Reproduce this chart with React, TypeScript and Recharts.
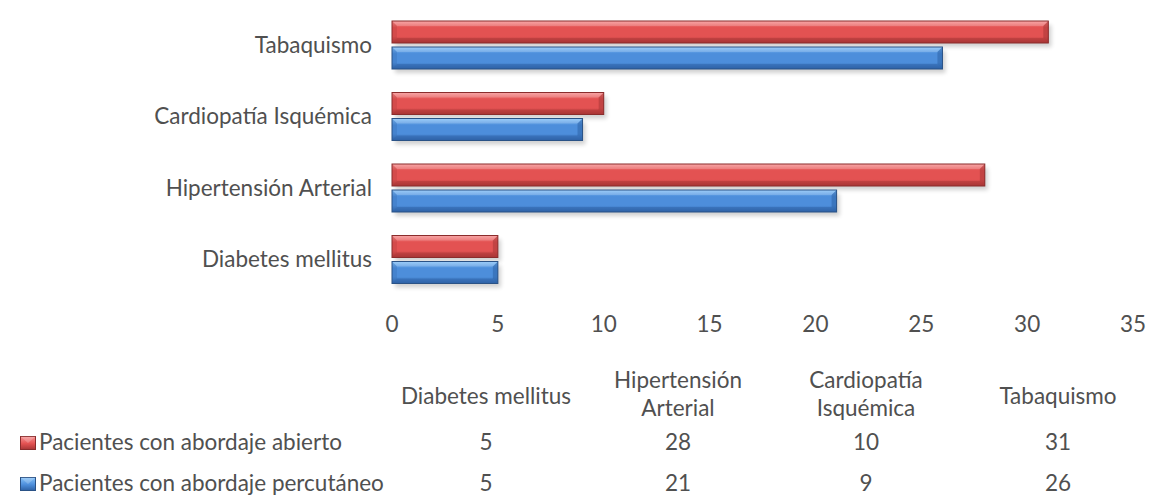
import React from 'react'
import { BarChart, Bar, XAxis, YAxis } from 'recharts'

const categories = ['Diabetes mellitus', 'Hipertensión Arterial', 'Cardiopatía Isquémica', 'Tabaquismo']
const abierto = [5, 28, 10, 31]
const percutaneo = [5, 21, 9, 26]
const xTicks = [0, 5, 10, 15, 20, 25, 30, 35]
const tableHeaders = [['Diabetes mellitus'], ['Hipertensión', 'Arterial'], ['Cardiopatía', 'Isquémica'], ['Tabaquismo']]
const seriesNames = ['Pacientes con abordaje abierto', 'Pacientes con abordaje percutáneo']

const data = categories.map((name, i) => ({ name, abierto: abierto[i], percutaneo: percutaneo[i] }))

const FONT = 'Lato, "Noto Sans", sans-serif'
const FS = 22.5
const TEXT = '#505050'
const colCenters = [486, 678, 866, 1058]
const rowCenters = [443, 484]

const PALETTE = {
  red: { light: '#f79292', mid: '#e35252', dark: '#a83636', edge: '#8a2c2c', id: 'gRed' },
  blue: { light: '#86c2f8', mid: '#4d8edb', dark: '#2e62a6', edge: '#2a5286', id: 'gBlue' },
}

const BevelBar = (color: 'red' | 'blue') => (props: any) => {
  const { x, y, width, height } = props
  if (!width || width <= 0) return null
  const p = PALETTE[color]
  const b = Math.min(5, width / 2)
  return (
    <g>
      <rect x={x + 3} y={y + 4} width={width} height={height} fill="#000" opacity={0.18} filter="url(#shadowBlur)" />
      <rect x={x} y={y} width={width} height={height} fill={`url(#${p.id})`} />
      <polygon points={`${x},${y} ${x + width},${y} ${x + width - b},${y + b} ${x + b},${y + b}`} fill="#fff" opacity={0.18} />
      <polygon points={`${x + width},${y} ${x + width},${y + height} ${x + width - b},${y + height - b} ${x + width - b},${y + b}`} fill={p.dark} opacity={0.55} />
      <polygon points={`${x},${y + height} ${x + width},${y + height} ${x + width - b},${y + height - b} ${x + b},${y + height - b}`} fill={p.dark} opacity={0.45} />
      <polygon points={`${x},${y} ${x + b},${y + b} ${x + b},${y + height - b} ${x},${y + height}`} fill={p.dark} opacity={0.25} />
      <rect x={x} y={y} width={width} height={height} fill="none" stroke={p.edge} strokeWidth={1} />
    </g>
  )
}

const LegendSwatch = ({ color }: { color: 'red' | 'blue' }) => {
  const p = PALETTE[color]
  return (
    <svg width={16} height={14} style={{ display: 'block' }}>
      <defs>
        <linearGradient id={`sw-${color}`} x1="0" y1="0" x2="0" y2="1">
          <stop offset="0%" stopColor={p.light} />
          <stop offset="55%" stopColor={p.mid} />
          <stop offset="100%" stopColor={p.dark} />
        </linearGradient>
      </defs>
      <rect x={0.5} y={0.5} width={15} height={13} fill={`url(#sw-${color})`} stroke={p.edge} />
      <polygon points="0.5,0.5 15.5,0.5 8,7" fill="#fff" opacity={0.2} />
    </svg>
  )
}

export default function App() {
  const rows = [abierto, percutaneo]
  return (
    <div style={{ position: 'absolute', left: 0, top: 0, width: 1153, height: 499, background: '#fff', fontFamily: FONT, color: TEXT }}>
      <BarChart
        width={1153}
        height={340}
        data={data}
        layout="vertical"
        margin={{ top: 9, right: 20, bottom: 0, left: 0 }}
        barSize={22}
        barGap={4}
      >
        <defs>
          {Object.values(PALETTE).map((p) => (
            <linearGradient key={p.id} id={p.id} x1="0" y1="0" x2="0" y2="1">
              <stop offset="0%" stopColor={p.light} />
              <stop offset="30%" stopColor={p.mid} />
              <stop offset="70%" stopColor={p.mid} />
              <stop offset="100%" stopColor={p.dark} />
            </linearGradient>
          ))}
          <filter id="shadowBlur" x="-10%" y="-50%" width="120%" height="200%">
            <feGaussianBlur stdDeviation="2" />
          </filter>
        </defs>
        <XAxis
          type="number"
          domain={[0, 35]}
          ticks={xTicks}
          axisLine={false}
          tickLine={false}
          tickMargin={15}
          height={45}
          tick={{ fontSize: FS, fill: TEXT, fontFamily: FONT }}
        />
        <YAxis
          type="category"
          dataKey="name"
          reversed
          width={392}
          axisLine={false}
          tickLine={false}
          tickMargin={14}
          tick={{ fontSize: FS, fill: TEXT, fontFamily: FONT }}
        />
        <Bar dataKey="abierto" name={seriesNames[0]} isAnimationActive={false} shape={BevelBar('red')} />
        <Bar dataKey="percutaneo" name={seriesNames[1]} isAnimationActive={false} shape={BevelBar('blue')} />
      </BarChart>

      {tableHeaders.map((lines, i) => (
        <div
          key={i}
          style={{
            position: 'absolute',
            left: colCenters[i] - 100,
            width: 200,
            top: lines.length === 1 ? 382 : 366,
            textAlign: 'center',
            fontSize: FS,
            lineHeight: '28px',
          }}
        >
          {lines.map((l) => (
            <div key={l}>{l}</div>
          ))}
        </div>
      ))}

      {rows.map((vals, r) => (
        <React.Fragment key={r}>
          <div style={{ position: 'absolute', left: 20, top: rowCenters[r] - 7 }}>
            <LegendSwatch color={r === 0 ? 'red' : 'blue'} />
          </div>
          <div style={{ position: 'absolute', left: 39, top: rowCenters[r] - 15, fontSize: FS, lineHeight: '28px', whiteSpace: 'nowrap' }}>
            {seriesNames[r]}
          </div>
          {vals.map((v, i) => (
            <div
              key={i}
              style={{ position: 'absolute', left: colCenters[i] - 50, width: 100, top: rowCenters[r] - 15, textAlign: 'center', fontSize: FS, lineHeight: '28px' }}
            >
              {v}
            </div>
          ))}
        </React.Fragment>
      ))}
    </div>
  )
}
